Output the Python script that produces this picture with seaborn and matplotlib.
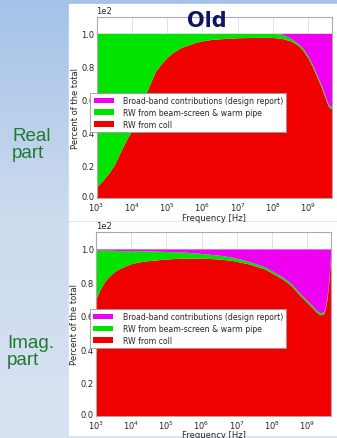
import matplotlib
matplotlib.use("Agg")
import matplotlib.pyplot as plt
import matplotlib.transforms as mtransforms
from matplotlib.patches import Rectangle
import numpy as np
import seaborn as sns

# contributions in percent of the total, x = log10(frequency / Hz)
real_logf = [3.0, 3.15, 3.33, 3.5, 3.7, 3.85, 4.05, 4.2, 4.39, 4.55, 4.67, 4.85,
             5.0, 5.2, 5.4, 5.6, 5.8, 6.0, 6.3, 7.0, 7.5, 8.0, 8.25, 8.5, 8.7,
             8.86, 9.0, 9.14, 9.26, 9.38, 9.48, 9.57, 9.62, 9.68]
real_coll = [6.7, 10, 14.7, 20, 29, 35.5, 43, 52, 63, 71, 77, 82,
             85.5, 89, 91.5, 93, 94.5, 95.5, 96.5, 97.4, 97.6, 97.6, 97, 95.5, 93,
             89.5, 85, 79, 73, 67, 61, 56, 54.7, 54.5]
real_bs = [93.3, 90, 85.3, 80, 71, 64.5, 57, 48, 37, 29, 23, 18,
           14.5, 11, 8.5, 7, 5.5, 4.5, 3.5, 2.6, 2.4, 2.4, 2.6, 1.6, 1.2,
           1.2, 1.2, 1.2, 1.2, 1.2, 1.2, 1.2, 1.2, 1.2]

imag_logf = [3.0, 3.1, 3.2, 3.3, 3.45, 3.6, 3.8, 4.05, 4.3, 4.5, 5.0, 5.5, 6.0,
             6.5, 6.9, 7.35, 7.8, 8.3, 8.55, 8.76, 8.95, 9.14, 9.27, 9.38, 9.47,
             9.52, 9.57, 9.62, 9.66, 9.68]
imag_coll = [70, 75, 79, 82, 85, 87.5, 89.5, 91.5, 92.5, 93, 94, 94.5, 94.5,
             94, 93, 91, 88, 82, 78, 73, 69, 65, 62, 60.5, 61,
             64, 70, 80, 92, 97]
imag_bs = [29.4, 24.3, 20.3, 17.3, 14.2, 11.6, 9.4, 7.5, 6.4, 5.8, 4.5, 3.6, 2.8,
           2.3, 2.0, 1.5, 1.3, 1.2, 1.2, 1.2, 1.2, 1.2, 1.2, 1.2, 1.2,
           1.2, 1.2, 1.2, 1.2, 1.2]

labels = ["RW from coll", "RW from beam-screen & warm pipe",
          "Broad-band contributions (design report)"]
colors = ["#f00000", "#00e400", "#f000f0"]

sns.set_theme(style="whitegrid")
plt.rcParams["font.family"] = ["DejaVu Sans"]

fig = plt.figure(figsize=(3.37, 4.39), dpi=100)

# slide background
bg = fig.add_axes([0, 0, 1, 1], zorder=-5)
top = np.array([164, 194, 232]) / 255
mid = np.array([205, 219, 239]) / 255
bot = np.array([216, 226, 242]) / 255
t = np.linspace(0, 1, 200)[:, None]
grad = np.where(t < 0.5, top + (mid - top) * (t / 0.5), mid + (bot - mid) * ((t - 0.5) / 0.5))
bg.imshow(grad[:, None, :].repeat(2, axis=1), extent=[0, 1, 0, 1], aspect="auto", origin="upper")
bg.add_patch(Rectangle((69 / 337, 1 - 221 / 439), 1, 216 / 439, color="white"))
bg.add_patch(Rectangle((69 / 337, 1 - 436 / 439), 1, 213 / 439, color="white"))
bg.set_xlim(0, 1)
bg.set_ylim(0, 1)
bg.axis("off")


def draw(ax, logf, coll, bs):
    f = 10 ** np.array(logf)
    coll = np.array(coll)
    bs = np.array(bs)
    bb = 100 - coll - bs
    polys = ax.stackplot(f, coll, bs, bb, colors=colors, labels=labels, linewidth=0)
    ax.set_xscale("log")
    ax.set_xlim(1e3, 10 ** 9.68)
    ax.set_ylim(0, 110)
    ax.set_yticks([0, 20, 40, 60, 80, 100])
    ax.ticklabel_format(axis="y", style="sci", scilimits=(0, 0))
    ax.yaxis.get_offset_text().set_fontsize(6)
    ax.set_xticks([1e3, 1e4, 1e5, 1e6, 1e7, 1e8, 1e9])
    ax.minorticks_off()
    ax.tick_params(labelsize=6, pad=1.5, length=0)
    ax.tick_params(axis="x", pad=2.2)
    ax.grid(True, color="#dddddd", linewidth=0.6)
    for s in ax.spines.values():
        s.set_color("#aaaaaa")
        s.set_linewidth(0.8)
    ax.set_xlabel("Frequency [Hz]", fontsize=6, labelpad=-0.6)
    ax.set_ylabel("Percent of the total", fontsize=6, labelpad=1)
    # nudge the "0.0" label up a touch so it clears the 10^3 label
    lab0 = ax.yaxis.get_major_ticks()[0].label1
    lab0.set_transform(lab0.get_transform()
                       + mtransforms.ScaledTranslation(0, 1.5 / 72, fig.dpi_scale_trans))
    h = polys[::-1]
    leg = ax.legend(h, labels[::-1], loc="upper left", bbox_to_anchor=(-0.026, 0.58),
                    fontsize=5.6, frameon=True, fancybox=False, framealpha=1,
                    edgecolor="#999999", handlelength=2.6, handleheight=0.7,
                    borderpad=0.4, labelspacing=0.35, handletextpad=1.2, borderaxespad=0)
    leg.get_frame().set_linewidth(0.6)


ax1 = fig.add_axes([0.2864, 0.5467, 0.699, 0.4123])
draw(ax1, real_logf, real_coll, real_bs)
ax2 = fig.add_axes([0.2849, 0.0508, 0.697, 0.4178])
draw(ax2, imag_logf, imag_coll, imag_bs)

fig.text(207 / 337, 1 - 21 / 439, "Old", ha="center", va="center", fontsize=15,
         fontweight="bold", color="#0c1466")

green = "#1f7a30"
fig.text(12 / 337, 1 - 145 / 439, "Real\npart", ha="left", va="center", fontsize=13.5,
         color=green, family="Liberation Sans", linespacing=1.05)
fig.text(7 / 337, 1 - 352 / 439, "Imag.\npart", ha="left", va="center", fontsize=13.5,
         color=green, family="Liberation Sans", linespacing=1.05)

fig.savefig("out.png", dpi=100)
